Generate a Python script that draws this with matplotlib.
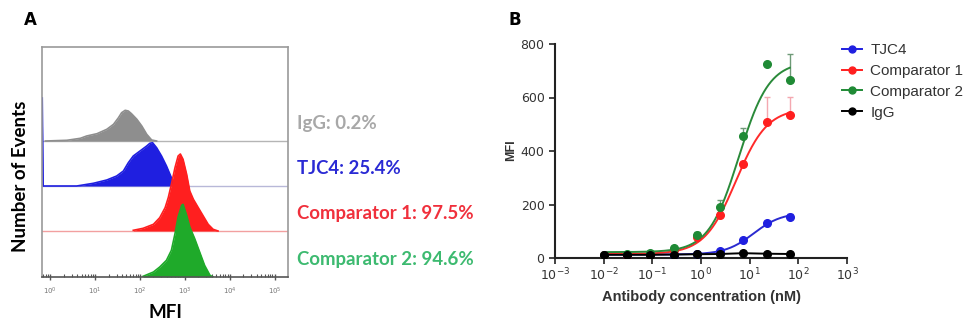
import numpy as np
import matplotlib.pyplot as plt
from matplotlib.lines import Line2D

# ---------------- Panel A: histogramas de citometría ----------------
# posición en log10(MFI) y altura del histograma (unidades arbitrarias)
igg_log = [-0.11, 0.37, 0.67, 0.81, 1.04, 1.26, 1.41, 1.52, 1.59, 1.67, 1.74, 1.81, 1.93, 2.04, 2.15, 2.26, 2.37]
igg_cnt = [0, 0.7, 2.7, 5, 7.3, 11.7, 16.7, 23.3, 28.3, 30.7, 30, 27.3, 21.7, 15, 6.7, 1, 0]

tjc4_log = [-0.18, -0.16, 0.59, 0.96, 1.26, 1.48, 1.63, 1.74, 1.85, 2.0, 2.15, 2.22, 2.28, 2.37, 2.48, 2.59, 2.70, 2.78, 2.85]
tjc4_cnt = [88, 0, 0, 2.7, 6, 10, 15, 23.3, 30, 35, 40, 42.7, 43.3, 38.3, 30, 20, 8.3, 1.7, 0]

comp1_log = [1.85, 2.07, 2.30, 2.44, 2.56, 2.63, 2.70, 2.78, 2.85, 2.90, 2.96, 3.04, 3.11, 3.19, 3.30, 3.41, 3.52, 3.63, 3.74]
comp1_cnt = [0.7, 2.7, 6.7, 13.3, 23.3, 33.3, 46.7, 63.3, 75, 77, 71.7, 56.7, 40, 31.7, 23.3, 15, 6.7, 1.7, 0]

comp2_log = [2.07, 2.30, 2.44, 2.59, 2.70, 2.78, 2.85, 2.93, 2.96, 3.04, 3.11, 3.22, 3.33, 3.44, 3.56, 3.63]
comp2_cnt = [0.7, 5, 10, 16.7, 26.7, 43.3, 60, 71.7, 72.7, 61.7, 50, 38.3, 25, 11.7, 1.7, 0]

hist_labels = ['IgG: 0.2%', 'TJC4: 25.4%', 'Comparator 1: 97.5%', 'Comparator 2: 94.6%']

# ---------------- Panel B: curva dosis-respuesta ----------------
conc_nM = [0.0102, 0.0305, 0.0914, 0.274, 0.823, 2.47, 7.41, 22.2, 66.7]
tjc4_mfi = [10, 12, 14, 12, 16, 26, 66, 131, 154]
comp1_mfi = [10, 12, 16, 30, 79, 160, 351, 510, 533]
comp2_mfi = [10, 14, 20, 39, 85, 190, 456, 727, 667]
igg_mfi = [12, 12, 12, 13, 14, 15, 18, 16, 15]

tjc4_err = [0, 0, 0, 0, 0, 4, 6, 8, 12]
comp1_err = [0, 0, 0, 0, 0, 6, 10, 92, 69]
comp2_err = [0, 0, 0, 6, 12, 28, 30, 0, 97]

# parámetros del ajuste logístico de 4 parámetros
fit_bottom = {'TJC4': 13, 'Comparator 1': 15, 'Comparator 2': 22}
fit_top = {'TJC4': 170, 'Comparator 1': 560, 'Comparator 2': 735}
fit_ec50 = {'TJC4': 12.0, 'Comparator 1': 5.2, 'Comparator 2': 6.0}
fit_hill = {'TJC4': 1.5, 'Comparator 1': 1.35, 'Comparator 2': 1.4}


def cuatro_pl(x, nombre):
    b, t = fit_bottom[nombre], fit_top[nombre]
    return b + (t - b) / (1 + (fit_ec50[nombre] / x) ** fit_hill[nombre])


# colores
c_gray, c_blue, c_red, c_green = '#8e8e8e', '#1f1fe0', '#ff1f1f', '#1faa2a'
txt_cols = ['#a8a8a8', '#2a2ad4', '#f0303c', '#3dba70']

W, H = 963, 324
fig = plt.figure(figsize=(W / 100, H / 100), dpi=100)

# ---------- A ----------
axA = fig.add_axes([42 / W, 1 - 277 / H, 246 / W, 230 / H])
axA.set_xscale('log')
axA.set_xlim(10 ** -0.185, 10 ** 5.3)
axA.set_ylim(0, 230)

series = [(igg_log, igg_cnt, c_gray, '#b5b5b5'),
          (tjc4_log, tjc4_cnt, c_blue, '#b8b8d8'),
          (comp1_log, comp1_cnt, c_red, '#f2a0a0'),
          (comp2_log, comp2_cnt, c_green, '#909090')]
offsets = [136, 91, 46, 0]
for (lg, cnt, col, lcol), off in zip(series, offsets):
    x = 10 ** np.array(lg)
    y = off + np.array(cnt)
    if off > 0:
        axA.axhline(off, color=lcol, lw=1.0, zorder=1)
    axA.fill_between(x, off, y, color=col, lw=0, zorder=2)
    axA.plot(x, y, color=col, lw=1.2, zorder=2)

for lab, col, off in zip(hist_labels, txt_cols, offsets):
    axA.text(1.035, (off + 17) / 230, lab, transform=axA.transAxes, color=col,
             fontsize=13.4, fontweight='bold', family='Lato', va='center', ha='left')

for s in ['top', 'right', 'left']:
    axA.spines[s].set_color('#9a9a9a')
    axA.spines[s].set_linewidth(1.2)
axA.spines['bottom'].set_color('#555555')
axA.spines['bottom'].set_linewidth(1.2)
axA.set_yticks([])
axA.set_xticks([10 ** k for k in range(6)])
axA.xaxis.set_minor_locator(plt.matplotlib.ticker.LogLocator(base=10, subs=np.arange(2, 10)))
axA.xaxis.set_minor_formatter(plt.NullFormatter())
axA.tick_params(axis='x', which='major', direction='inout', length=5, width=1, colors='#555555',
                labelsize=5, labelcolor='#777777', pad=4)
axA.tick_params(axis='x', which='minor', direction='in', length=2.5, width=0.8, colors='#555555')
axA.set_xlabel('MFI', fontsize=13.5, fontweight='bold', family='Lato')
axA.xaxis.set_label_coords((165 - 42) / 246, -(304 - 277) / 230)
axA.set_ylabel('Number of Events', fontsize=13.5, fontweight='bold', family='Lato')
axA.yaxis.set_label_coords((29 - 42) / 246, (277 - 176) / 230)
fig.text(30 / W, 1 - 20 / H, 'A', fontsize=12, fontweight='bold', va='center', ha='center')

# ---------- B ----------
axB = fig.add_axes([555 / W, 1 - 258 / H, 292 / W, 214 / H])
axB.set_xscale('log')
axB.set_xlim(1e-3, 1e3)
axB.set_ylim(0, 800)

xs = np.logspace(np.log10(conc_nM[0]), np.log10(conc_nM[-1]), 300)
curvas = [('TJC4', tjc4_mfi, tjc4_err, c_blue, '#2a2ad0', '#5050d0'),
          ('Comparator 1', comp1_mfi, comp1_err, c_red, '#ff2a2a', '#f4a8b0'),
          ('Comparator 2', comp2_mfi, comp2_err, '#1f8a35', '#2a8a3a', '#6f9a78')]
handles = []
for nombre, mfi, err, col, lcol, ecol in curvas:
    axB.errorbar(conc_nM, mfi, yerr=[np.zeros(len(err)), err], fmt='none', ecolor=ecol,
                 elinewidth=1.0, capsize=2.5, zorder=2)
    axB.plot(xs, cuatro_pl(xs, nombre), color=lcol, lw=1.4, zorder=3)
    axB.plot(conc_nM, mfi, 'o', color=col, ms=5.5, zorder=4)
    handles.append(Line2D([], [], color=col, marker='o', ms=5, lw=1.4))
axB.plot(conc_nM, igg_mfi, '-o', color='black', ms=5.5, lw=1.4, zorder=5)
handles.append(Line2D([], [], color='black', marker='o', ms=5, lw=1.4))

for s in ['top', 'right']:
    axB.spines[s].set_visible(False)
for s in ['left', 'bottom']:
    axB.spines[s].set_linewidth(1.5)
    axB.spines[s].set_color('#222222')
axB.set_yticks([0, 200, 400, 600, 800])
axB.set_xticks([10.0 ** k for k in range(-3, 4)])
axB.xaxis.set_minor_locator(plt.NullLocator())
axB.tick_params(axis='both', direction='out', length=4, width=1.2, colors='#222222',
                labelsize=9, labelcolor='#333333')
axB.tick_params(axis='x', pad=2)
axB.set_xlabel('Antibody concentration (nM)', fontsize=10.5, fontweight='bold', color='#333333',
               family='Liberation Sans')
axB.xaxis.set_label_coords(0.5, -(290 - 258) / 214)
axB.set_ylabel('MFI', fontsize=9, fontweight='bold', color='#333333', family='Liberation Sans')
axB.yaxis.set_label_coords((517 - 555) / 292, (258 - 150) / 214)
fig.text(515 / W, 1 - 20 / H, 'B', fontsize=12, fontweight='bold', va='center', ha='center')

fig.legend(handles, ['TJC4', 'Comparator 1', 'Comparator 2', 'IgG'], loc='upper left',
           bbox_to_anchor=(842 / W, 1 - 43 / H), frameon=False, borderpad=0, borderaxespad=0,
           handlelength=1.3, handletextpad=0.55, labelspacing=0.45,
           prop={'family': 'Liberation Sans', 'size': 11}, labelcolor='#333333')

fig.savefig('out.png', dpi=100)
